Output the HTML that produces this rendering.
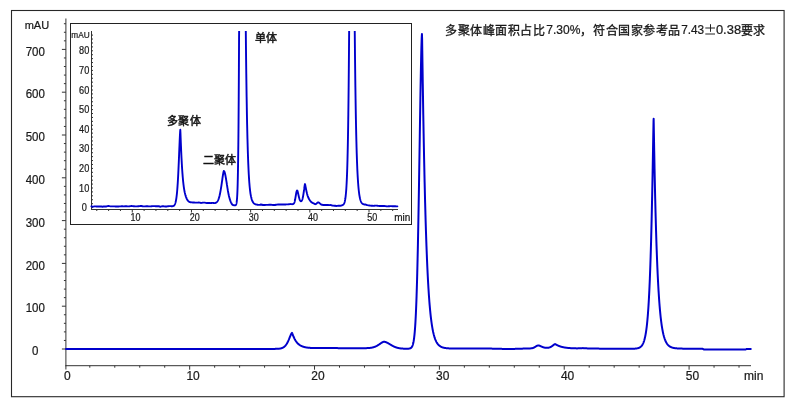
<!DOCTYPE html>
<html lang="zh-CN"><head><meta charset="utf-8">
<style>
html,body{margin:0;padding:0;background:#fff;width:800px;height:405px;overflow:hidden}
svg{display:block;will-change:transform}
text{font-family:"Liberation Sans",sans-serif;fill:#1a1a1a;stroke:#1a1a1a;stroke-width:0.22}
.ax{stroke:#333;stroke-width:1;fill:none;shape-rendering:crispEdges}
.tr{stroke:#0000cc;stroke-width:2.0;fill:none;stroke-linejoin:round;stroke-linecap:round}
.tri{stroke:#0000cc;stroke-width:1.9;fill:none;stroke-linejoin:round;stroke-linecap:round}
</style></head><body>
<svg width="800" height="405" viewBox="0 0 800 405">
<defs><clipPath id="ic"><rect x="70" y="31" width="340" height="193"/></clipPath></defs>
<!-- outer frame -->
<rect x="11.5" y="10.5" width="772.6" height="386.2" fill="none" stroke="#282828" stroke-width="1.1"/>
<path d="M65.9,18.5V366.2M65.4,365.7H751" stroke="#333" stroke-width="1" fill="none"/>
<path d="M61.900000000000006,349.00H65.9M63.900000000000006,340.44H65.9M63.900000000000006,331.88H65.9M63.900000000000006,323.32H65.9M63.900000000000006,314.76H65.9M61.900000000000006,306.20H65.9M63.900000000000006,297.64H65.9M63.900000000000006,289.08H65.9M63.900000000000006,280.52H65.9M63.900000000000006,271.96H65.9M61.900000000000006,263.40H65.9M63.900000000000006,254.84H65.9M63.900000000000006,246.28H65.9M63.900000000000006,237.72H65.9M63.900000000000006,229.16H65.9M61.900000000000006,220.60H65.9M63.900000000000006,212.04H65.9M63.900000000000006,203.48H65.9M63.900000000000006,194.92H65.9M63.900000000000006,186.36H65.9M61.900000000000006,177.80H65.9M63.900000000000006,169.24H65.9M63.900000000000006,160.68H65.9M63.900000000000006,152.12H65.9M63.900000000000006,143.56H65.9M61.900000000000006,135.00H65.9M63.900000000000006,126.44H65.9M63.900000000000006,117.88H65.9M63.900000000000006,109.32H65.9M63.900000000000006,100.76H65.9M61.900000000000006,92.20H65.9M63.900000000000006,83.64H65.9M63.900000000000006,75.08H65.9M63.900000000000006,66.52H65.9M63.900000000000006,57.96H65.9M61.900000000000006,49.40H65.9M63.900000000000006,40.84H65.9M63.900000000000006,32.28H65.9M63.900000000000006,23.72H65.9M89.80,365.7V367.7M114.77,365.7V367.7M139.74,365.7V367.7M164.71,365.7V367.7M189.68,365.7V369.7M214.65,365.7V367.7M239.62,365.7V367.7M264.59,365.7V367.7M289.56,365.7V367.7M314.53,365.7V369.7M339.50,365.7V367.7M364.47,365.7V367.7M389.44,365.7V367.7M414.41,365.7V367.7M439.38,365.7V369.7M464.35,365.7V367.7M489.32,365.7V367.7M514.29,365.7V367.7M539.26,365.7V367.7M564.23,365.7V369.7M589.20,365.7V367.7M614.17,365.7V367.7M639.14,365.7V367.7M664.11,365.7V367.7M689.08,365.7V369.7M714.05,365.7V367.7M739.02,365.7V367.7M65.9,365.7V369.5" stroke="#333" stroke-width="1" fill="none"/>
<g transform="translate(35.30,355.20) scale(0.96,1.03)"><text x="0" y="0" text-anchor="middle" style="font-size:12px">0</text></g>
<g transform="translate(35.30,312.40) scale(0.96,1.03)"><text x="0" y="0" text-anchor="middle" style="font-size:12px">100</text></g>
<g transform="translate(35.30,269.60) scale(0.96,1.03)"><text x="0" y="0" text-anchor="middle" style="font-size:12px">200</text></g>
<g transform="translate(35.30,226.80) scale(0.96,1.03)"><text x="0" y="0" text-anchor="middle" style="font-size:12px">300</text></g>
<g transform="translate(35.30,184.00) scale(0.96,1.03)"><text x="0" y="0" text-anchor="middle" style="font-size:12px">400</text></g>
<g transform="translate(35.30,141.20) scale(0.96,1.03)"><text x="0" y="0" text-anchor="middle" style="font-size:12px">500</text></g>
<g transform="translate(35.30,98.40) scale(0.96,1.03)"><text x="0" y="0" text-anchor="middle" style="font-size:12px">600</text></g>
<g transform="translate(35.30,55.60) scale(0.96,1.03)"><text x="0" y="0" text-anchor="middle" style="font-size:12px">700</text></g>
<text x="36.9" y="29.3" text-anchor="middle" style="font-size:11px">mAU</text>
<g transform="translate(64.10,379.80) scale(1.0,1.03)"><text x="0" y="0" text-anchor="start" style="font-size:12px">0</text></g>
<g transform="translate(186.38,379.80) scale(1.0,1.03)"><text x="0" y="0" text-anchor="start" style="font-size:12px">10</text></g>
<g transform="translate(311.23,379.80) scale(1.0,1.03)"><text x="0" y="0" text-anchor="start" style="font-size:12px">20</text></g>
<g transform="translate(436.08,379.80) scale(1.0,1.03)"><text x="0" y="0" text-anchor="start" style="font-size:12px">30</text></g>
<g transform="translate(560.93,379.80) scale(1.0,1.03)"><text x="0" y="0" text-anchor="start" style="font-size:12px">40</text></g>
<g transform="translate(685.78,379.80) scale(1.0,1.03)"><text x="0" y="0" text-anchor="start" style="font-size:12px">50</text></g>
<text x="744" y="379.8" style="font-size:12px">min</text>
<!-- title -->
<g style="font-size:12px;fill:#111">
<text y="34.7" letter-spacing="0.5" style="stroke:#111;stroke-width:0.3"><tspan x="445.4">多聚体峰面积占比</tspan><tspan x="580">，</tspan><tspan x="593.4">符合国家参考品</tspan><tspan x="740.6">要求</tspan></text>
<g transform="translate(0,34.2) scale(1,1.1)" style="stroke-width:0.15"><text x="546.2" y="0" textLength="34.2" lengthAdjust="spacingAndGlyphs">7.30%</text><text x="681.2" y="0" textLength="23" lengthAdjust="spacingAndGlyphs">7.43</text><text x="715.9" y="0" textLength="25.2" lengthAdjust="spacingAndGlyphs">0.38</text></g>
<path d="M710.5,24.2V31.8M705.3,28H715M705.3,34H715" stroke="#222" stroke-width="1" fill="none"/>
</g>
<path class="tr" d="M66.00,348.94L67.00,348.94L68.01,348.94L69.01,348.94L70.01,348.94L71.01,348.94L72.01,348.94L73.01,348.94L74.01,348.94L75.01,348.94L76.01,348.94L77.02,348.94L78.02,348.94L79.02,348.94L80.02,348.94L81.02,348.94L82.02,348.94L83.02,348.94L84.02,348.94L85.02,348.94L86.03,348.94L87.03,348.94L88.03,348.94L89.03,348.94L90.03,348.94L91.03,348.94L92.03,348.94L93.03,348.94L94.03,348.94L95.03,348.94L96.04,348.94L97.04,348.94L98.04,348.94L99.04,348.94L100.04,348.94L101.04,348.94L102.04,348.94L103.04,348.94L104.05,348.94L105.05,348.94L106.05,348.93L107.05,348.93L108.05,348.93L109.05,348.93L110.05,348.93L111.05,348.93L112.05,348.93L113.06,348.93L114.06,348.93L115.06,348.93L116.06,348.93L117.06,348.93L118.06,348.93L119.06,348.93L120.06,348.93L121.06,348.93L122.06,348.93L123.07,348.93L124.07,348.93L125.07,348.93L126.07,348.93L127.07,348.93L128.07,348.93L129.07,348.93L130.07,348.93L131.08,348.93L132.08,348.93L133.08,348.93L134.08,348.93L135.08,348.93L136.08,348.93L137.08,348.93L138.08,348.93L139.08,348.93L140.08,348.93L141.09,348.93L142.09,348.93L143.09,348.93L144.09,348.93L145.09,348.93L146.09,348.93L147.09,348.93L148.09,348.93L149.10,348.93L150.10,348.93L151.10,348.93L152.10,348.93L153.10,348.93L154.10,348.93L155.10,348.92L156.10,348.92L157.10,348.92L158.10,348.92L159.11,348.92L160.11,348.92L161.11,348.92L162.11,348.92L163.11,348.92L164.11,348.92L165.11,348.92L166.11,348.92L167.11,348.92L168.12,348.92L169.12,348.92L170.12,348.92L171.12,348.92L172.12,348.92L173.12,348.92L174.12,348.92L175.12,348.92L176.13,348.92L177.13,348.92L178.13,348.92L179.13,348.92L180.13,348.92L181.13,348.92L182.13,348.92L183.13,348.92L184.13,348.92L185.13,348.92L186.14,348.92L187.14,348.92L188.14,348.92L189.14,348.92L190.14,348.92L191.14,348.92L192.14,348.92L193.14,348.92L194.14,348.92L195.15,348.92L196.15,348.92L197.15,348.92L198.15,348.92L199.15,348.92L200.15,348.92L201.15,348.92L202.15,348.92L203.15,348.92L204.16,348.92L205.16,348.91L206.16,348.91L207.16,348.91L208.16,348.91L209.16,348.91L210.16,348.91L211.16,348.91L212.16,348.91L213.17,348.91L214.17,348.91L215.17,348.91L216.17,348.91L217.17,348.91L218.17,348.91L219.17,348.91L220.17,348.91L221.17,348.91L222.17,348.91L223.18,348.91L224.18,348.91L225.18,348.91L226.18,348.91L227.18,348.91L228.18,348.91L229.18,348.91L230.18,348.91L231.19,348.91L232.19,348.91L233.19,348.91L234.19,348.91L235.19,348.91L236.19,348.91L237.19,348.91L238.19,348.91L239.19,348.91L240.20,348.91L241.20,348.91L242.20,348.91L243.20,348.91L244.20,348.91L245.20,348.91L246.20,348.91L247.20,348.91L248.20,348.91L249.20,348.91L250.21,348.91L251.21,348.91L252.21,348.91L253.21,348.91L254.21,348.91L255.21,348.90L256.21,348.90L257.21,348.90L258.22,348.90L259.22,348.90L260.22,348.90L260.84,348.90L261.01,348.90L261.18,348.90L261.22,348.90L261.35,348.90L261.51,348.90L261.68,348.90L261.85,348.90L262.02,348.90L262.18,348.90L262.22,348.90L262.35,348.90L262.52,348.90L262.69,348.90L262.85,348.90L263.02,348.90L263.19,348.90L263.22,348.90L263.36,348.90L263.52,348.90L263.69,348.90L263.86,348.90L264.02,348.90L264.19,348.90L264.22,348.90L264.36,348.90L264.53,348.90L264.69,348.90L264.86,348.90L265.03,348.90L265.20,348.90L265.22,348.90L265.36,348.90L265.53,348.90L265.70,348.90L265.86,348.90L266.03,348.90L266.20,348.90L266.22,348.90L266.37,348.90L266.54,348.90L266.70,348.90L266.87,348.90L267.04,348.90L267.20,348.90L267.22,348.90L267.37,348.90L267.54,348.90L267.71,348.90L267.87,348.90L268.04,348.90L268.21,348.90L268.23,348.90L268.38,348.90L268.54,348.90L268.71,348.90L268.88,348.90L269.04,348.90L269.21,348.90L269.23,348.90L269.38,348.90L269.55,348.90L269.72,348.90L269.88,348.90L270.05,348.90L270.22,348.90L270.23,348.90L270.38,348.90L270.55,348.90L270.72,348.90L270.89,348.90L271.05,348.90L271.22,348.90L271.23,348.90L271.39,348.90L271.56,348.90L271.72,348.90L271.89,348.90L272.06,348.90L272.22,348.90L272.23,348.90L272.39,348.90L272.56,348.90L272.73,348.90L272.89,348.89L273.06,348.89L273.23,348.89L273.23,348.89L273.40,348.89L273.56,348.89L273.73,348.89L273.90,348.89L274.07,348.89L274.23,348.89L274.23,348.89L274.40,348.89L274.57,348.88L274.74,348.88L274.90,348.88L275.07,348.88L275.23,348.88L275.24,348.87L275.40,348.87L275.57,348.87L275.74,348.87L275.91,348.86L276.07,348.86L276.23,348.86L276.24,348.86L276.41,348.85L276.58,348.85L276.74,348.84L276.91,348.83L277.08,348.83L277.24,348.82L277.25,348.82L277.41,348.81L277.58,348.80L277.75,348.79L277.92,348.78L278.08,348.77L278.24,348.76L278.25,348.76L278.42,348.75L278.58,348.73L278.75,348.72L278.92,348.70L279.09,348.68L279.24,348.66L279.25,348.66L279.42,348.64L279.59,348.62L279.76,348.60L279.92,348.57L280.09,348.54L280.24,348.52L280.26,348.51L280.43,348.48L280.59,348.45L280.76,348.41L280.93,348.37L281.10,348.33L281.24,348.29L281.26,348.29L281.43,348.24L281.60,348.19L281.76,348.13L281.93,348.08L282.10,348.01L282.24,347.96L282.27,347.95L282.43,347.88L282.60,347.80L282.77,347.72L282.94,347.64L283.10,347.55L283.24,347.47L283.27,347.45L283.44,347.35L283.61,347.24L283.77,347.13L283.94,347.01L284.11,346.88L284.24,346.77L284.28,346.75L284.44,346.61L284.61,346.46L284.78,346.30L284.94,346.13L285.11,345.96L285.24,345.81L285.28,345.78L285.45,345.58L285.61,345.38L285.78,345.17L285.95,344.95L286.12,344.72L286.25,344.53L286.28,344.48L286.45,344.23L286.62,343.97L286.78,343.69L286.95,343.41L287.12,343.12L287.25,342.89L287.29,342.81L287.46,342.50L287.62,342.18L287.79,341.84L287.96,341.50L288.12,341.15L288.25,340.88L288.29,340.79L288.46,340.42L288.63,340.04L288.79,339.66L288.96,339.27L289.13,338.87L289.25,338.58L289.30,338.47L289.46,338.07L289.63,337.66L289.80,337.24L289.96,336.83L290.13,336.42L290.25,336.13L290.30,336.01L290.47,335.61L290.63,335.22L290.80,334.84L290.97,334.48L291.14,334.14L291.25,333.91L291.30,333.81L291.47,333.52L291.64,333.26L291.81,333.04L291.97,332.88L292.14,333.05L292.25,333.35L292.31,333.50L292.48,333.96L292.64,334.40L292.81,334.84L292.98,335.27L293.14,335.69L293.25,335.96L293.31,336.10L293.48,336.50L293.65,336.89L293.81,337.27L293.98,337.64L294.15,337.99L294.25,338.21L294.32,338.34L294.48,338.67L294.65,338.99L294.82,339.31L294.99,339.61L295.15,339.91L295.26,340.08L295.32,340.19L295.49,340.47L295.66,340.74L295.82,340.99L295.99,341.24L296.16,341.49L296.26,341.63L296.32,341.72L296.49,341.95L296.66,342.16L296.83,342.37L296.99,342.58L297.16,342.77L297.26,342.89L297.33,342.97L297.50,343.15L297.66,343.33L297.83,343.50L298.00,343.66L298.17,343.82L298.26,343.91L298.33,343.98L298.50,344.12L298.67,344.27L298.84,344.40L299.00,344.54L299.17,344.66L299.26,344.73L299.34,344.79L299.50,344.91L299.67,345.02L299.84,345.13L300.01,345.24L300.17,345.34L300.26,345.39L300.34,345.44L300.51,345.54L300.68,345.63L300.84,345.72L301.01,345.80L301.18,345.88L301.26,345.92L301.35,345.96L301.51,346.04L301.68,346.11L301.85,346.18L302.02,346.25L302.18,346.32L302.26,346.35L302.35,346.38L302.52,346.45L302.68,346.51L302.85,346.58L303.02,346.63L303.19,346.69L303.26,346.72L303.35,346.75L303.52,346.80L303.69,346.85L303.86,346.90L304.02,346.95L304.19,346.99L304.26,347.01L304.36,347.04L304.53,347.08L304.69,347.12L304.86,347.16L305.03,347.20L305.19,347.23L305.27,347.25L305.36,347.27L305.53,347.30L305.70,347.34L305.86,347.37L306.03,347.40L306.20,347.43L306.27,347.44L306.37,347.45L306.53,347.48L306.70,347.51L306.87,347.53L307.04,347.56L307.20,347.58L307.27,347.59L307.37,347.60L307.54,347.62L307.71,347.64L307.87,347.66L308.04,347.68L308.21,347.70L308.27,347.71L308.37,347.72L308.54,347.74L308.71,347.75L308.88,347.77L309.04,347.78L309.21,347.80L309.27,347.80L309.38,347.81L309.55,347.83L309.71,347.84L309.88,347.85L310.05,347.86L310.22,347.87L310.27,347.88L310.38,347.89L310.55,347.90L310.72,347.91L310.88,347.92L311.05,347.92L311.22,347.93L311.27,347.94L311.39,347.94L311.55,347.95L311.72,347.96L311.89,347.97L312.06,347.97L312.22,347.98L312.27,347.98L312.39,347.99L312.56,347.99L312.73,348.00L312.89,348.00L313.06,348.01L313.23,348.02L313.28,348.02L313.40,348.02L313.56,348.03L313.73,348.03L313.90,348.03L314.06,348.04L314.23,348.04L314.28,348.04L314.40,348.05L314.57,348.05L314.73,348.05L314.90,348.06L315.07,348.06L315.24,348.06L315.28,348.06L315.40,348.07L315.57,348.07L315.74,348.07L315.91,348.07L316.07,348.07L316.24,348.08L316.28,348.08L316.41,348.08L316.58,348.08L316.74,348.08L316.91,348.08L317.08,348.09L317.24,348.09L317.28,348.09L317.41,348.09L317.58,348.09L317.75,348.09L317.91,348.09L318.08,348.09L318.25,348.09L318.28,348.09L318.42,348.09L318.58,348.10L318.75,348.10L318.92,348.10L319.09,348.10L319.25,348.10L319.28,348.10L319.42,348.10L319.59,348.10L319.75,348.10L319.92,348.10L320.09,348.10L320.26,348.10L320.28,348.10L320.42,348.10L320.59,348.10L320.76,348.10L320.93,348.10L321.09,348.10L321.26,348.10L321.28,348.10L321.43,348.10L321.60,348.10L321.76,348.10L321.93,348.10L322.10,348.10L322.27,348.10L322.29,348.10L322.43,348.10L322.60,348.10L322.77,348.10L322.93,348.10L323.10,348.10L323.27,348.10L323.29,348.10L324.29,348.09L325.29,348.09L326.29,348.08L327.29,348.08L328.29,348.09L329.29,348.09L330.29,348.10L331.29,348.10L332.30,348.10L333.30,348.11L334.30,348.11L335.30,348.11L336.30,348.12L337.30,348.12L338.30,348.13L339.30,348.13L340.31,348.13L341.31,348.14L342.31,348.14L343.31,348.14L344.31,348.15L345.31,348.15L346.31,348.15L347.31,348.16L348.31,348.16L349.31,348.16L350.32,348.17L351.32,348.17L352.32,348.17L352.73,348.18L352.90,348.18L353.07,348.18L353.24,348.18L353.32,348.18L353.40,348.18L353.57,348.18L353.74,348.18L353.91,348.18L354.07,348.18L354.24,348.18L354.32,348.18L354.41,348.18L354.58,348.18L354.74,348.18L354.91,348.18L355.08,348.18L355.24,348.18L355.32,348.18L355.41,348.18L355.58,348.18L355.75,348.18L355.91,348.19L356.08,348.19L356.25,348.19L356.32,348.19L356.42,348.19L356.58,348.19L356.75,348.19L356.92,348.19L357.09,348.19L357.25,348.19L357.32,348.19L357.42,348.19L357.59,348.19L357.75,348.19L357.92,348.19L358.09,348.19L358.26,348.19L358.32,348.19L358.42,348.19L358.59,348.19L358.76,348.19L358.93,348.19L359.09,348.19L359.26,348.19L359.33,348.19L359.43,348.19L359.60,348.19L359.76,348.19L359.93,348.19L360.10,348.19L360.27,348.19L360.33,348.19L360.43,348.19L360.60,348.19L360.77,348.19L360.93,348.19L361.10,348.19L361.27,348.19L361.33,348.19L361.44,348.19L361.60,348.19L361.77,348.19L361.94,348.19L362.11,348.19L362.27,348.19L362.33,348.19L362.44,348.19L362.61,348.19L362.78,348.18L362.94,348.18L363.11,348.18L363.28,348.18L363.33,348.18L363.44,348.18L363.61,348.18L363.78,348.17L363.95,348.17L364.11,348.17L364.28,348.17L364.33,348.17L364.45,348.16L364.62,348.16L364.78,348.16L364.95,348.16L365.12,348.16L365.29,348.16L365.33,348.16L365.45,348.15L365.62,348.15L365.79,348.15L365.96,348.15L366.12,348.14L366.29,348.14L366.33,348.14L366.46,348.13L366.62,348.13L366.79,348.12L366.96,348.12L367.13,348.11L367.29,348.11L367.33,348.10L367.46,348.10L367.63,348.09L367.80,348.08L367.96,348.07L368.13,348.06L368.30,348.05L368.34,348.05L368.47,348.04L368.63,348.03L368.80,348.02L368.97,348.01L369.14,347.99L369.30,347.98L369.34,347.98L369.47,347.96L369.64,347.95L369.80,347.93L369.97,347.91L370.14,347.89L370.31,347.87L370.34,347.87L370.47,347.85L370.64,347.83L370.81,347.81L370.98,347.78L371.14,347.76L371.31,347.73L371.34,347.72L371.48,347.70L371.65,347.67L371.81,347.64L371.98,347.61L372.15,347.57L372.32,347.54L372.34,347.53L372.48,347.50L372.65,347.46L372.82,347.42L372.98,347.38L373.15,347.33L373.32,347.29L373.34,347.28L373.49,347.24L373.65,347.19L373.82,347.14L373.99,347.08L374.16,347.03L374.32,346.97L374.34,346.96L374.49,346.91L374.66,346.85L374.83,346.78L374.99,346.72L375.16,346.65L375.33,346.58L375.34,346.57L375.50,346.51L375.66,346.43L375.83,346.36L376.00,346.28L376.16,346.20L376.33,346.11L376.34,346.11L376.50,346.03L376.67,345.94L376.83,345.85L377.00,345.76L377.17,345.67L377.34,345.57L377.35,345.56L377.50,345.47L377.67,345.37L377.84,345.27L378.00,345.17L378.17,345.06L378.34,344.96L378.35,344.95L378.51,344.85L378.67,344.74L378.84,344.63L379.01,344.51L379.18,344.40L379.34,344.29L379.35,344.28L379.51,344.17L379.68,344.06L379.85,343.94L380.01,343.83L380.18,343.71L380.35,343.59L380.52,343.48L380.68,343.36L380.85,343.25L381.02,343.14L381.18,343.03L381.35,342.92L381.35,342.92L381.52,342.81L381.69,342.71L381.85,342.60L382.02,342.50L382.19,342.41L382.35,342.32L382.36,342.32L382.52,342.23L382.69,342.15L382.86,342.07L383.03,342.00L383.19,341.94L383.35,341.88L383.36,341.88L383.53,341.84L383.70,341.80L383.86,341.78L384.03,341.77L384.20,341.78L384.35,341.80L384.36,341.80L384.53,341.82L384.70,341.85L384.87,341.88L385.03,341.92L385.20,341.96L385.35,342.00L385.37,342.00L385.54,342.05L385.70,342.10L385.87,342.16L386.04,342.22L386.21,342.28L386.35,342.34L386.37,342.35L386.54,342.42L386.71,342.50L386.88,342.57L387.04,342.65L387.21,342.73L387.36,342.81L387.38,342.82L387.54,342.90L387.71,342.99L387.88,343.08L388.05,343.18L388.21,343.27L388.36,343.35L388.38,343.36L388.55,343.46L388.72,343.56L388.88,343.66L389.05,343.76L389.22,343.86L389.36,343.94L389.39,343.96L389.55,344.06L389.72,344.16L389.89,344.26L390.06,344.37L390.22,344.47L390.36,344.55L390.39,344.57L390.56,344.67L390.72,344.77L390.81,344.83L390.89,344.88L390.98,344.93L391.06,344.98L391.15,345.03L391.23,345.08L391.32,345.13L391.36,345.15L391.39,345.17L391.48,345.23L391.56,345.27L391.65,345.32L391.73,345.37L391.82,345.42L391.90,345.47L391.98,345.52L392.06,345.56L392.15,345.61L392.23,345.65L392.32,345.70L392.36,345.73L392.40,345.75L392.49,345.80L392.56,345.84L392.65,345.89L392.73,345.93L392.82,345.98L392.90,346.02L392.99,346.06L393.07,346.10L393.16,346.15L393.24,346.19L393.32,346.24L393.36,346.25L393.40,346.27L393.49,346.32L393.57,346.36L393.66,346.40L393.74,346.44L393.83,346.48L393.90,346.52L393.99,346.56L394.07,346.60L394.16,346.64L394.24,346.67L394.33,346.71L394.36,346.73L394.41,346.75L394.50,346.79L394.57,346.82L394.66,346.86L394.74,346.89L394.83,346.93L394.91,346.96L395.00,347.00L395.08,347.03L395.16,347.06L395.24,347.09L395.33,347.13L395.37,347.14L395.41,347.16L395.50,347.19L395.58,347.22L395.67,347.25L395.74,347.28L395.83,347.31L395.91,347.34L396.00,347.37L396.08,347.40L396.17,347.43L396.25,347.46L396.34,347.48L396.37,347.49L396.42,347.51L396.50,347.54L396.58,347.56L396.67,347.59L396.75,347.61L396.84,347.64L396.92,347.66L397.01,347.69L397.08,347.71L397.17,347.74L397.25,347.76L397.34,347.78L397.37,347.79L397.42,347.80L397.51,347.83L397.59,347.85L397.68,347.87L397.75,347.89L397.84,347.91L397.92,347.93L398.01,347.95L398.09,347.97L398.18,347.99L398.26,348.01L398.34,348.02L398.37,348.03L398.42,348.04L398.51,348.06L398.59,348.08L398.68,348.09L398.76,348.11L398.85,348.13L398.92,348.14L399.01,348.16L399.09,348.17L399.18,348.19L399.26,348.20L399.35,348.22L399.37,348.22L399.43,348.23L399.52,348.25L399.60,348.26L399.68,348.28L399.76,348.29L399.85,348.30L399.93,348.31L400.02,348.33L400.10,348.34L400.19,348.35L400.26,348.36L400.35,348.38L400.37,348.38L400.43,348.39L400.52,348.40L400.60,348.41L400.69,348.42L400.77,348.43L400.86,348.44L400.93,348.45L401.02,348.46L401.10,348.47L401.19,348.48L401.27,348.49L401.36,348.50L401.37,348.50L401.44,348.51L401.52,348.51L401.60,348.52L401.69,348.53L401.77,348.54L401.86,348.55L401.94,348.55L402.03,348.56L402.10,348.57L402.19,348.57L402.27,348.58L402.36,348.58L402.37,348.58L402.44,348.59L402.53,348.59L402.61,348.60L402.70,348.60L402.77,348.61L402.86,348.61L402.94,348.61L403.03,348.62L403.11,348.62L403.20,348.63L403.28,348.63L403.37,348.63L403.37,348.63L403.44,348.64L403.53,348.64L403.61,348.64L403.70,348.65L403.78,348.65L403.87,348.65L403.95,348.66L404.03,348.66L404.11,348.66L404.20,348.66L404.28,348.67L404.37,348.67L404.38,348.67L404.45,348.67L404.54,348.67L404.62,348.68L404.70,348.68L404.78,348.68L404.87,348.68L404.95,348.68L405.04,348.69L405.12,348.69L405.21,348.69L405.28,348.69L405.37,348.69L405.38,348.69L405.45,348.69L405.54,348.69L405.62,348.70L405.71,348.70L405.79,348.70L405.88,348.70L405.95,348.70L406.04,348.70L406.12,348.70L406.21,348.70L406.29,348.70L406.38,348.70L406.46,348.70L406.55,348.70L406.62,348.70L406.71,348.70L406.79,348.70L406.88,348.70L406.96,348.70L407.05,348.70L407.13,348.70L407.21,348.70L407.29,348.70L407.38,348.70L407.38,348.70L407.46,348.69L407.55,348.69L407.63,348.69L407.72,348.69L407.80,348.69L407.88,348.68L407.96,348.68L408.05,348.68L408.13,348.67L408.22,348.67L408.30,348.66L408.38,348.66L408.39,348.66L408.46,348.65L408.55,348.65L408.63,348.64L408.72,348.63L408.80,348.63L408.89,348.62L408.97,348.61L409.06,348.60L409.13,348.59L409.22,348.58L409.30,348.56L409.38,348.55L409.39,348.55L409.47,348.53L409.56,348.52L409.64,348.50L409.72,348.48L409.80,348.46L409.89,348.44L409.97,348.41L410.06,348.39L410.14,348.36L410.23,348.33L410.31,348.29L410.38,348.26L410.39,348.26L410.47,348.22L410.56,348.18L410.64,348.13L410.73,348.08L410.81,348.03L410.90,347.98L410.98,347.92L411.06,347.85L411.14,347.79L411.23,347.71L411.31,347.63L411.38,347.56L411.40,347.54L411.48,347.46L411.57,347.35L411.64,347.25L411.73,347.13L411.81,347.02L411.90,346.89L411.98,346.76L412.07,346.60L412.15,346.45L412.24,346.28L412.31,346.11L412.38,345.95L412.40,345.90L412.48,345.71L412.57,345.48L412.65,345.27L412.74,345.01L412.82,344.76L412.90,344.47L412.98,344.19L413.07,343.86L413.15,343.54L413.24,343.17L413.32,342.82L413.38,342.50L413.41,342.39L413.49,341.99L413.57,341.52L413.65,341.08L413.74,340.55L413.82,340.05L413.91,339.46L413.99,338.90L414.08,338.24L414.16,337.62L414.24,336.89L414.32,336.20L414.39,335.62L414.41,335.38L414.49,334.62L414.58,333.71L414.66,332.87L414.75,331.87L414.82,330.94L414.91,329.83L414.99,328.81L415.08,327.59L415.16,326.46L415.25,325.13L415.39,322.89L415.42,322.43L415.58,319.47L415.75,316.25L415.92,312.74L416.08,308.93L416.25,304.81L416.39,301.18L416.42,300.36L416.59,295.56L416.75,290.40L416.92,284.84L417.09,278.94L417.26,272.65L417.39,267.34L417.42,265.97L417.59,258.89L417.76,251.43L417.93,243.57L418.09,235.33L418.26,226.71L418.39,219.78L418.43,217.75L418.59,208.44L418.76,198.83L418.93,188.93L419.10,178.79L419.26,168.45L419.39,160.48L419.43,157.96L419.60,147.36L419.77,136.73L419.93,126.12L420.10,115.61L420.27,105.27L420.39,97.73L420.44,95.13L420.60,85.41L420.77,76.15L420.94,67.44L421.11,59.40L421.27,52.15L421.39,47.46L421.44,45.81L421.61,40.55L421.77,36.55L421.94,34.09L422.11,39.06L422.28,50.47L422.40,58.56L422.44,61.86L422.61,73.04L422.78,83.93L422.95,94.51L423.11,104.76L423.28,114.67L423.40,121.35L423.45,124.24L423.62,133.47L423.78,142.44L423.95,151.00L424.12,159.25L424.29,167.18L424.40,172.28L424.45,174.81L424.62,182.14L424.79,189.19L424.95,195.95L425.12,202.45L425.29,208.69L425.40,212.60L425.46,214.68L425.62,220.42L425.79,225.93L425.96,231.21L426.13,236.28L426.29,241.14L426.40,244.12L426.46,245.80L426.63,250.26L426.80,254.54L426.96,258.64L427.13,262.56L427.30,266.35L427.40,268.57L427.47,269.95L427.63,273.40L427.80,276.70L427.97,279.86L428.13,282.89L428.30,285.79L428.40,287.46L428.47,288.56L428.64,291.21L428.80,293.75L428.97,296.18L429.14,298.51L429.31,300.73L429.40,301.98L429.47,302.86L429.64,304.90L429.81,306.84L429.98,308.71L430.14,310.49L430.31,312.19L430.40,313.12L430.48,313.82L430.64,315.38L430.81,316.88L430.98,318.30L431.15,319.66L431.31,320.96L431.40,321.63L431.48,322.20L431.65,323.39L431.82,324.53L431.98,325.61L432.15,326.65L432.32,327.64L432.41,328.14L432.49,328.58L432.65,329.49L432.82,330.35L432.99,331.18L433.15,331.97L433.32,332.72L433.41,333.09L433.49,333.44L433.66,334.13L433.82,334.79L433.99,335.41L434.16,336.01L434.33,336.59L434.41,336.86L434.49,337.14L434.66,337.66L434.83,338.16L435.00,338.63L435.16,339.08L435.33,339.52L435.41,339.72L435.50,339.93L435.67,340.33L435.83,340.70L436.00,341.07L436.17,341.41L436.33,341.74L436.41,341.88L436.50,342.05L436.67,342.35L436.84,342.63L437.00,342.91L437.17,343.17L437.34,343.41L437.41,343.52L437.51,343.65L437.67,343.88L437.84,344.09L438.01,344.30L438.18,344.50L438.34,344.68L438.41,344.76L438.51,344.86L438.68,345.03L438.85,345.19L439.01,345.35L439.18,345.50L439.35,345.64L439.41,345.69L439.51,345.77L439.68,345.90L439.85,346.03L440.02,346.14L440.18,346.26L440.35,346.36L440.42,346.40L440.52,346.47L440.69,346.56L440.85,346.66L441.02,346.75L441.19,346.83L441.36,346.91L441.42,346.94L441.52,346.99L441.69,347.06L441.86,347.13L442.03,347.20L442.19,347.26L442.36,347.32L442.42,347.34L442.53,347.38L442.69,347.44L442.86,347.49L443.03,347.54L443.20,347.59L443.36,347.63L443.42,347.65L443.53,347.68L443.70,347.72L443.87,347.76L444.03,347.80L444.20,347.83L444.37,347.87L444.42,347.88L444.54,347.90L444.70,347.93L444.87,347.96L445.04,347.99L445.21,348.02L445.37,348.04L445.42,348.05L445.54,348.07L445.71,348.09L445.87,348.11L446.04,348.14L446.21,348.16L446.38,348.18L446.42,348.18L446.54,348.19L446.71,348.21L446.88,348.23L447.05,348.25L447.21,348.26L447.38,348.28L447.42,348.28L447.55,348.29L447.71,348.30L447.88,348.32L448.05,348.33L448.22,348.34L448.39,348.35L448.42,348.35L448.55,348.36L448.72,348.37L448.89,348.38L449.05,348.39L449.22,348.40L449.39,348.41L449.43,348.41L449.56,348.41L449.72,348.42L449.89,348.43L450.06,348.44L450.23,348.44L450.39,348.45L450.43,348.45L450.56,348.45L450.73,348.46L450.89,348.47L451.06,348.47L451.23,348.48L451.40,348.48L451.43,348.48L451.57,348.49L451.73,348.49L451.90,348.49L452.07,348.50L452.23,348.50L452.40,348.50L452.43,348.51L452.57,348.51L452.74,348.51L452.90,348.51L453.07,348.52L453.24,348.52L453.43,348.52L454.43,348.54L455.43,348.55L456.43,348.56L457.43,348.56L458.43,348.57L459.44,348.57L460.44,348.58L461.44,348.58L462.44,348.58L463.44,348.58L464.44,348.58L465.44,348.59L466.44,348.59L467.45,348.59L468.45,348.59L469.45,348.59L470.45,348.59L471.45,348.59L472.45,348.60L473.45,348.60L474.45,348.60L475.45,348.60L476.45,348.60L477.46,348.60L478.46,348.60L479.46,348.59L480.46,348.59L481.46,348.59L482.46,348.59L483.46,348.59L484.46,348.58L485.46,348.58L486.47,348.58L487.47,348.58L488.47,348.57L489.47,348.58L490.47,348.60L491.47,348.62L492.47,348.65L493.47,348.67L494.47,348.69L495.48,348.72L496.48,348.74L497.48,348.76L498.48,348.79L499.48,348.81L500.48,348.83L501.48,348.86L502.48,348.88L503.48,348.90L504.49,348.93L505.49,348.95L506.49,348.97L507.42,349.00L507.49,349.00L507.59,349.00L507.76,349.00L507.93,349.01L508.09,349.01L508.26,349.02L508.43,349.02L508.49,349.02L508.59,349.02L508.76,349.03L508.93,349.03L509.10,349.04L509.26,349.04L509.43,349.04L509.49,349.03L509.60,349.03L509.77,349.03L509.93,349.02L510.10,349.02L510.27,349.01L510.44,349.01L510.49,349.01L510.60,349.00L510.77,349.00L510.94,348.99L511.11,348.99L511.27,348.98L511.44,348.98L511.49,348.98L511.61,348.98L511.77,348.97L511.94,348.97L512.11,348.96L512.28,348.96L512.44,348.95L512.49,348.95L512.61,348.95L512.78,348.94L512.95,348.94L513.11,348.93L513.28,348.93L513.45,348.92L513.49,348.92L513.62,348.92L513.78,348.91L513.95,348.91L514.12,348.91L514.29,348.90L514.45,348.90L514.50,348.89L514.62,348.89L514.79,348.88L514.95,348.88L515.12,348.87L515.29,348.87L515.46,348.86L515.50,348.86L515.62,348.86L515.79,348.85L515.96,348.85L516.13,348.84L516.29,348.84L516.46,348.83L516.50,348.83L516.63,348.82L516.80,348.82L516.96,348.81L517.13,348.81L517.30,348.80L517.46,348.80L517.50,348.80L517.63,348.79L517.80,348.79L517.97,348.78L518.13,348.78L518.30,348.77L518.47,348.76L518.50,348.76L518.64,348.76L518.80,348.75L518.97,348.75L519.14,348.74L519.31,348.74L519.47,348.73L519.50,348.73L519.64,348.73L519.81,348.72L519.98,348.72L520.14,348.71L520.31,348.70L520.48,348.70L520.50,348.70L520.64,348.69L520.81,348.69L520.98,348.68L521.15,348.68L521.31,348.67L521.48,348.67L521.50,348.67L521.65,348.66L521.82,348.66L521.98,348.65L522.15,348.64L522.32,348.64L522.49,348.63L522.51,348.63L522.65,348.63L522.82,348.62L522.99,348.62L523.16,348.61L523.32,348.61L523.49,348.60L523.51,348.60L523.66,348.60L523.82,348.59L523.90,348.59L523.99,348.58L524.07,348.58L524.16,348.58L524.24,348.58L524.33,348.57L524.41,348.57L524.49,348.57L524.51,348.57L524.57,348.57L524.66,348.56L524.74,348.56L524.83,348.56L524.91,348.55L525.00,348.55L525.07,348.55L525.16,348.55L525.24,348.54L525.33,348.54L525.41,348.54L525.50,348.54L525.51,348.54L525.58,348.53L525.67,348.53L525.74,348.53L525.83,348.52L525.91,348.52L526.00,348.52L526.08,348.52L526.17,348.51L526.25,348.51L526.33,348.51L526.41,348.51L526.50,348.50L526.51,348.50L526.58,348.50L526.67,348.50L526.75,348.49L526.84,348.49L526.92,348.49L527.00,348.49L527.08,348.49L527.17,348.48L527.25,348.48L527.34,348.48L527.42,348.48L527.51,348.47L527.51,348.47L527.59,348.47L527.67,348.47L527.75,348.47L527.84,348.47L527.92,348.46L528.01,348.46L528.09,348.46L528.18,348.46L528.25,348.45L528.34,348.45L528.42,348.45L528.51,348.45L528.51,348.45L528.59,348.44L528.68,348.44L528.76,348.44L528.85,348.44L528.92,348.43L529.01,348.43L529.09,348.43L529.18,348.42L529.26,348.42L529.35,348.42L529.43,348.42L529.51,348.42L529.51,348.42L529.59,348.41L529.68,348.41L529.76,348.41L529.85,348.41L529.93,348.41L530.02,348.40L530.10,348.40L530.18,348.40L530.26,348.40L530.35,348.39L530.43,348.39L530.51,348.38L530.52,348.38L530.60,348.38L530.69,348.37L530.77,348.37L530.85,348.36L530.93,348.36L531.02,348.35L531.10,348.34L531.19,348.34L531.27,348.33L531.36,348.32L531.43,348.31L531.52,348.30L531.52,348.30L531.60,348.29L531.69,348.28L531.77,348.26L531.86,348.25L531.94,348.24L532.02,348.22L532.10,348.21L532.19,348.19L532.27,348.17L532.36,348.15L532.44,348.13L532.52,348.11L532.53,348.11L532.61,348.09L532.69,348.07L532.77,348.04L532.86,348.02L532.94,347.99L533.03,347.96L533.11,347.94L533.20,347.90L533.28,347.87L533.36,347.84L533.44,347.81L533.52,347.78L533.53,347.77L533.61,347.74L533.70,347.70L533.78,347.66L533.87,347.62L533.95,347.58L534.03,347.54L534.11,347.49L534.20,347.45L534.28,347.40L534.37,347.36L534.45,347.31L534.52,347.27L534.54,347.26L534.61,347.21L534.70,347.16L534.78,347.11L534.87,347.06L534.95,347.01L535.04,346.96L535.12,346.91L535.20,346.85L535.28,346.80L535.37,346.74L535.45,346.69L535.52,346.65L535.54,346.64L535.62,346.59L535.71,346.53L535.79,346.48L535.87,346.43L535.95,346.38L536.04,346.32L536.12,346.28L536.21,346.22L536.29,346.18L536.38,346.13L536.46,346.08L536.52,346.05L536.54,346.04L536.62,346.00L536.71,345.95L536.79,345.91L536.88,345.87L536.96,345.84L537.05,345.80L537.13,345.76L537.21,345.73L537.29,345.70L537.38,345.67L537.46,345.65L537.52,345.63L537.55,345.62L537.63,345.60L537.72,345.58L537.79,345.56L537.88,345.54L537.96,345.53L538.05,345.51L538.13,345.50L538.22,345.49L538.30,345.49L538.38,345.48L538.46,345.48L538.52,345.48L538.55,345.48L538.63,345.47L538.72,345.48L538.80,345.49L538.89,345.51L538.97,345.53L539.05,345.55L539.13,345.57L539.22,345.60L539.30,345.62L539.39,345.65L539.47,345.68L539.52,345.70L539.56,345.72L539.64,345.75L539.72,345.78L539.80,345.81L539.89,345.85L539.97,345.88L540.06,345.92L540.14,345.95L540.23,345.99L540.30,346.03L540.39,346.07L540.47,346.10L540.52,346.13L540.56,346.14L540.64,346.18L540.73,346.22L540.81,346.26L540.90,346.30L540.97,346.33L541.06,346.37L541.14,346.41L541.23,346.45L541.31,346.49L541.40,346.53L541.48,346.56L541.53,346.58L541.56,346.60L541.64,346.64L541.73,346.67L541.81,346.71L541.90,346.75L541.98,346.78L542.07,346.82L542.15,346.85L542.23,346.89L542.31,346.92L542.40,346.95L542.48,346.99L542.53,347.00L542.57,347.02L542.65,347.05L542.74,347.08L542.81,347.11L542.90,347.14L542.98,347.17L543.07,347.20L543.15,347.23L543.24,347.26L543.32,347.29L543.41,347.32L543.48,347.34L543.53,347.35L543.57,347.37L543.65,347.39L543.74,347.42L543.82,347.44L543.91,347.47L543.99,347.49L544.08,347.51L544.15,347.53L544.24,347.55L544.32,347.57L544.41,347.59L544.49,347.61L544.53,347.62L544.58,347.63L544.66,347.65L544.74,347.66L544.82,347.68L544.91,347.70L544.99,347.71L545.08,347.73L545.16,347.74L545.25,347.75L545.33,347.77L545.41,347.78L545.49,347.79L545.53,347.79L545.58,347.80L545.66,347.81L545.75,347.82L545.83,347.83L545.92,347.83L545.99,347.84L546.08,347.85L546.16,347.85L546.25,347.86L546.33,347.86L546.42,347.87L546.50,347.87L546.53,347.87L546.58,347.87L546.66,347.87L546.75,347.87L546.83,347.87L546.92,347.87L547.00,347.87L547.09,347.87L547.17,347.87L547.25,347.86L547.33,347.86L547.42,347.86L547.50,347.85L547.53,347.85L547.59,347.84L547.67,347.84L547.76,347.83L547.84,347.82L547.92,347.81L548.00,347.80L548.09,347.79L548.17,347.77L548.26,347.76L548.34,347.75L548.43,347.73L548.51,347.72L548.53,347.71L548.59,347.70L548.67,347.68L548.76,347.66L548.84,347.64L548.93,347.62L549.01,347.60L549.10,347.58L549.17,347.56L549.26,347.53L549.34,347.51L549.43,347.48L549.51,347.45L549.54,347.45L549.60,347.42L549.68,347.40L549.76,347.36L549.84,347.33L549.93,347.30L550.01,347.27L550.10,347.23L550.18,347.20L550.27,347.16L550.35,347.12L550.43,347.08L550.51,347.05L550.54,347.03L550.60,347.00L550.68,346.96L550.77,346.92L550.85,346.88L550.94,346.83L551.02,346.78L551.10,346.73L551.18,346.69L551.27,346.64L551.35,346.59L551.44,346.53L551.52,346.48L551.54,346.47L551.61,346.43L551.69,346.38L551.77,346.32L551.85,346.27L551.94,346.20L552.02,346.15L552.11,346.09L552.19,346.03L552.28,345.97L552.35,345.91L552.44,345.85L552.52,345.79L552.54,345.77L552.61,345.72L552.69,345.66L552.78,345.59L552.86,345.53L552.94,345.47L553.02,345.40L553.11,345.34L553.19,345.28L553.28,345.21L553.36,345.15L553.45,345.08L553.53,345.02L553.54,345.01L553.61,344.95L553.69,344.89L553.78,344.82L553.86,344.77L553.95,344.70L554.03,344.65L554.12,344.59L554.20,344.53L554.28,344.47L554.36,344.42L554.45,344.37L554.53,344.33L554.54,344.32L554.62,344.28L554.70,344.24L554.79,344.20L554.87,344.17L554.95,344.14L555.03,344.11L555.12,344.10L555.20,344.14L555.29,344.18L555.37,344.22L555.46,344.27L555.53,344.31L555.54,344.31L555.62,344.36L555.70,344.40L555.79,344.45L555.87,344.49L555.96,344.54L556.04,344.58L556.12,344.63L556.20,344.67L556.29,344.72L556.37,344.76L556.46,344.81L556.54,344.85L556.54,344.85L556.63,344.89L556.71,344.93L556.79,344.98L556.87,345.02L556.96,345.06L557.04,345.10L557.13,345.15L557.21,345.19L557.30,345.23L557.38,345.27L557.46,345.31L557.54,345.35L557.63,345.39L557.71,345.43L557.80,345.47L557.88,345.50L557.97,345.54L558.04,345.58L558.13,345.62L558.21,345.65L558.30,345.69L558.38,345.73L558.47,345.76L558.54,345.80L558.55,345.80L558.64,345.83L558.71,345.87L558.80,345.90L558.88,345.93L558.97,345.97L559.05,346.00L559.14,346.03L559.22,346.06L559.30,346.10L559.38,346.13L559.47,346.16L559.55,346.19L559.55,346.19L559.64,346.22L559.72,346.25L559.81,346.28L559.89,346.31L559.97,346.34L560.05,346.37L560.14,346.40L560.22,346.42L560.31,346.45L560.39,346.48L560.48,346.51L560.55,346.53L560.56,346.53L560.64,346.56L560.72,346.58L560.81,346.61L560.89,346.63L560.98,346.66L561.06,346.68L561.14,346.71L561.22,346.73L561.31,346.76L561.39,346.78L561.48,346.80L561.55,346.82L561.56,346.83L561.65,346.85L561.73,346.87L561.82,346.89L561.89,346.91L561.98,346.94L562.06,346.96L562.15,346.98L562.23,347.00L562.32,347.02L562.40,347.04L562.48,347.06L562.55,347.08L562.56,347.08L562.65,347.10L562.73,347.12L562.82,347.14L562.90,347.15L562.99,347.17L563.07,347.19L563.15,347.21L563.23,347.23L563.32,347.24L563.40,347.26L563.49,347.28L563.55,347.29L563.57,347.29L563.66,347.31L563.73,347.33L563.82,347.34L563.90,347.36L563.99,347.37L564.07,347.39L564.16,347.40L564.24,347.42L564.32,347.44L564.40,347.45L564.49,347.46L564.55,347.48L564.57,347.48L564.66,347.49L564.74,347.51L564.83,347.52L564.91,347.54L565.00,347.55L565.07,347.56L565.16,347.58L565.24,347.59L565.33,347.60L565.41,347.61L565.50,347.63L565.55,347.64L565.58,347.64L565.66,347.65L565.74,347.66L565.83,347.68L565.91,347.69L566.00,347.70L566.08,347.71L566.17,347.72L566.25,347.73L566.33,347.74L566.41,347.75L566.50,347.77L566.55,347.77L566.58,347.78L566.67,347.79L566.75,347.80L566.84,347.81L566.91,347.82L567.00,347.83L567.08,347.84L567.17,347.85L567.25,347.86L567.34,347.87L567.42,347.87L567.50,347.88L567.55,347.89L567.58,347.89L567.67,347.90L567.75,347.91L567.84,347.92L567.92,347.93L568.01,347.94L568.09,347.94L568.18,347.95L568.25,347.96L568.34,347.97L568.42,347.98L568.51,347.98L568.56,347.99L568.59,347.99L568.68,348.00L568.76,348.01L568.84,348.01L568.92,348.02L569.01,348.03L569.09,348.03L569.18,348.04L569.26,348.05L569.35,348.06L569.43,348.06L569.51,348.07L569.56,348.07L569.59,348.07L569.68,348.08L569.76,348.09L569.85,348.09L569.93,348.10L570.09,348.11L570.26,348.12L570.43,348.13L570.56,348.14L570.60,348.15L570.76,348.16L570.93,348.17L571.10,348.18L571.27,348.19L571.43,348.20L571.56,348.20L571.60,348.21L571.77,348.21L571.94,348.22L572.10,348.23L572.27,348.24L572.44,348.25L572.56,348.25L572.60,348.26L572.77,348.26L572.94,348.27L573.11,348.28L573.27,348.29L573.44,348.29L573.56,348.30L573.61,348.30L573.78,348.31L573.94,348.31L574.11,348.32L574.28,348.32L574.45,348.33L574.56,348.33L574.61,348.34L574.78,348.34L574.95,348.35L575.12,348.35L575.28,348.35L575.45,348.36L575.56,348.36L575.62,348.36L575.78,348.37L575.95,348.37L576.12,348.37L576.29,348.37L576.45,348.38L576.56,348.38L576.62,348.38L576.79,348.38L576.96,348.38L577.12,348.38L577.29,348.38L577.46,348.38L577.57,348.38L577.63,348.37L577.79,348.37L577.96,348.37L578.13,348.36L578.30,348.36L578.46,348.35L578.57,348.35L578.63,348.35L578.80,348.34L578.96,348.33L579.13,348.32L579.30,348.32L579.47,348.31L579.57,348.30L579.63,348.29L579.80,348.28L579.97,348.27L580.14,348.26L580.30,348.25L580.47,348.24L580.57,348.23L580.64,348.22L580.81,348.21L580.97,348.20L581.14,348.19L581.31,348.18L581.48,348.17L581.57,348.16L581.64,348.16L581.81,348.15L581.98,348.14L582.14,348.13L582.31,348.13L582.48,348.13L582.57,348.12L582.65,348.12L582.81,348.12L582.98,348.12L583.15,348.12L583.32,348.13L583.48,348.13L583.57,348.13L583.65,348.13L583.82,348.14L583.99,348.14L584.15,348.15L584.32,348.16L584.49,348.17L584.57,348.17L584.66,348.18L584.82,348.19L584.99,348.20L585.16,348.21L585.32,348.22L585.49,348.23L585.57,348.23L585.66,348.24L585.83,348.25L585.99,348.26L586.16,348.28L586.33,348.29L586.58,348.31L587.58,348.38L588.58,348.44L589.58,348.50L590.58,348.53L591.58,348.56L592.58,348.58L593.58,348.59L594.58,348.60L595.58,348.61L596.59,348.61L597.59,348.62L598.59,348.62L599.59,348.63L600.59,348.64L601.59,348.64L602.59,348.65L603.59,348.66L604.60,348.68L605.60,348.69L606.60,348.70L607.60,348.71L608.60,348.72L609.60,348.73L610.60,348.75L611.60,348.76L612.60,348.77L613.61,348.78L614.61,348.79L615.61,348.80L616.61,348.81L617.61,348.83L618.61,348.84L619.61,348.85L620.61,348.86L621.61,348.85L622.41,348.85L622.58,348.85L622.61,348.85L622.74,348.85L622.91,348.85L623.08,348.85L623.25,348.85L623.41,348.85L623.58,348.85L623.62,348.85L623.75,348.85L623.92,348.85L624.08,348.85L624.25,348.85L624.42,348.85L624.59,348.85L624.62,348.85L624.75,348.85L624.92,348.85L625.09,348.84L625.26,348.84L625.42,348.84L625.59,348.84L625.62,348.84L625.76,348.84L625.92,348.84L626.09,348.84L626.26,348.84L626.43,348.84L626.59,348.84L626.62,348.84L626.76,348.84L626.93,348.84L627.10,348.84L627.26,348.84L627.43,348.83L627.60,348.83L627.62,348.83L627.77,348.83L627.93,348.83L628.10,348.83L628.27,348.83L628.44,348.83L628.60,348.83L628.62,348.83L628.77,348.83L628.94,348.83L629.10,348.82L629.27,348.82L629.44,348.82L629.61,348.82L629.62,348.82L629.77,348.82L629.94,348.82L630.11,348.81L630.28,348.81L630.44,348.81L630.61,348.81L630.62,348.81L630.78,348.80L630.94,348.80L631.11,348.80L631.28,348.80L631.45,348.79L631.62,348.79L631.63,348.79L631.78,348.79L631.95,348.78L632.12,348.78L632.28,348.77L632.45,348.77L632.62,348.76L632.63,348.76L632.79,348.76L632.95,348.75L633.12,348.75L633.29,348.74L633.46,348.73L633.62,348.73L633.63,348.73L633.79,348.72L633.96,348.71L634.12,348.70L634.29,348.69L634.46,348.68L634.63,348.67L634.80,348.66L634.96,348.64L635.13,348.63L635.30,348.61L635.46,348.60L635.63,348.58L635.63,348.58L635.80,348.56L635.97,348.54L636.13,348.52L636.30,348.50L636.47,348.48L636.63,348.45L636.64,348.45L636.80,348.42L636.97,348.39L637.14,348.36L637.30,348.33L637.47,348.29L637.63,348.25L637.64,348.25L637.81,348.21L637.97,348.17L638.14,348.12L638.31,348.07L638.48,348.01L638.63,347.96L638.64,347.95L638.81,347.89L638.98,347.82L639.15,347.75L639.31,347.67L639.48,347.59L639.63,347.51L639.65,347.50L639.82,347.41L639.98,347.30L640.15,347.20L640.32,347.08L640.48,346.96L640.63,346.84L640.65,346.82L640.82,346.68L640.99,346.53L641.15,346.37L641.32,346.19L641.49,346.01L641.64,345.84L641.66,345.81L641.82,345.60L641.99,345.37L642.16,345.13L642.33,344.87L642.49,344.60L642.64,344.35L642.66,344.30L642.83,343.99L643.00,343.66L643.16,343.30L643.33,342.92L643.50,342.51L643.64,342.15L643.66,342.08L643.83,341.61L644.00,341.12L644.17,340.59L644.33,340.03L644.50,339.43L644.64,338.91L644.67,338.79L644.84,338.12L645.00,337.39L645.17,336.61L645.34,335.79L645.51,334.92L645.64,334.17L645.67,333.99L645.84,333.00L646.01,331.94L646.18,330.82L646.34,329.63L646.51,328.36L646.64,327.31L646.68,327.01L646.84,325.58L647.01,324.06L647.18,322.44L647.35,320.73L647.51,318.91L647.64,317.43L647.68,316.97L647.85,314.92L648.02,312.74L648.18,310.44L648.35,307.99L648.52,305.38L648.64,303.34L648.69,302.63L648.85,299.72L649.02,296.65L649.19,293.39L649.36,289.95L649.52,286.31L649.64,283.52L649.69,282.46L649.86,278.40L650.02,274.12L650.19,269.60L650.36,264.83L650.53,259.81L650.65,256.05L650.69,254.53L650.86,248.97L651.03,243.12L651.20,236.99L651.36,230.55L651.53,223.80L651.65,218.88L651.70,216.74L651.86,209.36L652.03,201.60L652.20,193.58L652.37,185.24L652.54,176.59L652.65,170.62L652.70,167.66L652.87,158.48L653.04,149.09L653.20,139.58L653.37,130.11L653.54,121.05L653.65,118.73L653.71,122.16L653.87,132.08L654.04,141.69L654.21,150.96L654.38,159.86L654.54,168.40L654.65,173.69L654.71,176.58L654.88,184.41L655.04,191.91L655.21,199.08L655.38,205.99L655.55,212.54L655.65,216.45L655.72,218.80L655.88,224.78L656.05,230.50L656.22,235.96L656.38,241.17L656.55,246.15L656.65,249.05L656.72,250.91L656.89,255.45L657.05,259.78L657.22,263.91L657.39,267.86L657.56,271.62L657.65,273.76L657.72,275.22L657.89,278.65L658.06,281.92L658.22,285.04L658.39,288.01L658.56,290.85L658.66,292.43L658.73,293.56L658.90,296.16L659.06,298.63L659.23,300.98L659.40,303.22L659.56,305.35L659.66,306.47L659.73,307.39L659.90,309.33L660.07,311.18L660.23,312.95L660.40,314.63L660.57,316.24L660.66,317.06L660.74,317.77L660.90,319.22L661.07,320.61L661.24,321.94L661.40,323.20L661.57,324.41L661.66,325.01L661.74,325.55L661.91,326.65L662.07,327.69L662.24,328.68L662.41,329.64L662.58,330.54L662.66,330.97L662.74,331.40L662.91,332.22L663.08,333.00L663.25,333.74L663.41,334.45L663.58,335.13L663.66,335.44L663.75,335.77L663.92,336.38L664.08,336.97L664.25,337.52L664.42,338.05L664.58,338.56L664.66,338.79L664.75,339.04L664.92,339.50L665.09,339.94L665.25,340.35L665.42,340.75L665.59,341.13L665.66,341.29L665.76,341.49L665.92,341.83L666.09,342.16L666.26,342.47L666.43,342.76L666.59,343.05L666.66,343.16L666.76,343.31L666.93,343.57L667.10,343.81L667.26,344.04L667.43,344.27L667.60,344.48L667.66,344.56L667.76,344.68L667.93,344.87L668.10,345.05L668.27,345.22L668.43,345.39L668.60,345.54L668.67,345.60L668.77,345.69L668.94,345.83L669.10,345.97L669.27,346.10L669.44,346.22L669.61,346.34L669.67,346.38L669.77,346.45L669.94,346.56L670.11,346.66L670.28,346.75L670.44,346.84L670.61,346.93L670.67,346.96L670.78,347.01L670.94,347.09L671.11,347.17L671.28,347.24L671.45,347.31L671.61,347.37L671.67,347.39L671.78,347.43L671.95,347.49L672.12,347.55L672.28,347.60L672.45,347.65L672.62,347.70L672.67,347.71L672.79,347.74L672.95,347.79L673.12,347.83L673.29,347.87L673.46,347.90L673.62,347.94L673.67,347.95L673.79,347.97L673.96,348.01L674.12,348.04L674.29,348.07L674.46,348.09L674.63,348.12L674.67,348.13L674.79,348.14L674.96,348.17L675.13,348.19L675.30,348.21L675.46,348.23L675.63,348.25L675.67,348.26L675.80,348.27L675.96,348.29L676.13,348.30L676.30,348.32L676.47,348.33L676.63,348.35L676.67,348.35L676.80,348.36L676.97,348.38L677.14,348.39L677.30,348.41L677.47,348.42L677.64,348.43L677.68,348.43L677.81,348.44L677.97,348.45L678.14,348.46L678.31,348.47L678.48,348.48L678.64,348.49L678.68,348.49L678.81,348.50L678.98,348.51L679.14,348.52L679.31,348.53L679.48,348.53L679.65,348.54L679.68,348.54L679.81,348.55L679.98,348.55L680.15,348.56L680.32,348.57L680.48,348.57L680.65,348.58L680.68,348.58L680.82,348.58L680.99,348.59L681.15,348.59L681.32,348.60L681.49,348.60L681.66,348.61L681.68,348.61L681.82,348.61L681.99,348.61L682.16,348.62L682.32,348.62L682.49,348.63L682.66,348.63L682.68,348.63L682.83,348.63L682.99,348.64L683.16,348.64L683.33,348.64L683.50,348.64L683.66,348.65L683.68,348.65L683.83,348.65L684.00,348.65L684.17,348.66L684.33,348.66L684.50,348.66L684.67,348.66L684.68,348.66L684.84,348.66L685.68,348.68L686.69,348.69L687.69,348.70L688.69,348.70L689.69,348.71L690.69,348.72L691.69,348.73L692.69,348.73L693.69,348.74L694.69,348.75L695.70,348.75L696.70,348.76L697.70,348.76L698.70,348.77L699.70,348.78L700.70,348.78L701.70,348.79L702.70,348.79L703.70,349.40L704.70,349.40L705.71,349.41L706.71,349.41L707.71,349.42L708.71,349.43L709.71,349.43L710.71,349.44L711.71,349.44L712.71,349.45L713.72,349.45L714.72,349.46L715.72,349.46L716.72,349.46L717.72,349.46L718.72,349.46L719.72,349.46L720.72,349.46L721.72,349.47L722.72,349.47L723.73,349.47L724.73,349.47L725.73,349.47L726.73,349.47L727.73,349.47L728.73,349.47L729.73,349.47L730.73,349.48L731.74,349.48L732.74,349.48L733.74,349.48L734.74,349.48L735.74,349.48L736.74,349.48L737.74,349.48L738.74,349.49L739.74,349.49L740.75,349.49L741.75,349.49L742.75,349.49L743.75,349.49L744.75,349.49L745.75,349.49L746.75,348.89L747.75,348.90L748.75,348.90L749.75,348.90L750.76,348.90"/>
<!-- inset -->
<rect x="70.5" y="23.5" width="341" height="201" fill="#fff" stroke="#222" stroke-width="1"/>
<path class="ax" d="M91.5,31V209.5M91.5,209.5H397.5"/>
<path d="M91.5,207.60H93M91.5,203.68H93M91.5,199.76H93M91.5,195.84H93M91.5,191.92H93M91.5,188.00H93M91.5,184.08H93M91.5,180.16H93M91.5,176.24H93M91.5,172.32H93M91.5,168.40H93M91.5,164.48H93M91.5,160.56H93M91.5,156.64H93M91.5,152.72H93M91.5,148.80H93M91.5,144.88H93M91.5,140.96H93M91.5,137.04H93M91.5,133.12H93M91.5,129.20H93M91.5,125.28H93M91.5,121.36H93M91.5,117.44H93M91.5,113.52H93M91.5,109.60H93M91.5,105.68H93M91.5,101.76H93M91.5,97.84H93M91.5,93.92H93M91.5,90.00H93M91.5,86.08H93M91.5,82.16H93M91.5,78.24H93M91.5,74.32H93M91.5,70.40H93M91.5,66.48H93M91.5,62.56H93M91.5,58.64H93M91.5,54.72H93M91.5,50.80H93M91.5,46.88H93M91.5,42.96H93M91.5,39.04H93M91.5,35.12H93M96.77,209.5V211.0M108.61,209.5V211.0M120.44,209.5V211.0M132.28,209.5V212.5M144.12,209.5V211.0M155.95,209.5V211.0M167.79,209.5V211.0M179.62,209.5V211.0M191.46,209.5V212.5M203.30,209.5V211.0M215.13,209.5V211.0M226.97,209.5V211.0M238.80,209.5V211.0M250.64,209.5V212.5M262.48,209.5V211.0M274.31,209.5V211.0M286.15,209.5V211.0M297.98,209.5V211.0M309.82,209.5V212.5M321.66,209.5V211.0M333.49,209.5V211.0M345.33,209.5V211.0M357.16,209.5V211.0M369.00,209.5V212.5M380.84,209.5V211.0M392.67,209.5V211.0" stroke="#333" stroke-width="1" fill="none"/>
<g transform="translate(84.20,211.20) scale(0.92,1.0)"><text x="0" y="0" text-anchor="middle" style="font-size:10px">0</text></g>
<g transform="translate(84.20,191.60) scale(0.92,1.0)"><text x="0" y="0" text-anchor="middle" style="font-size:10px">10</text></g>
<g transform="translate(84.20,172.00) scale(0.92,1.0)"><text x="0" y="0" text-anchor="middle" style="font-size:10px">20</text></g>
<g transform="translate(84.20,152.40) scale(0.92,1.0)"><text x="0" y="0" text-anchor="middle" style="font-size:10px">30</text></g>
<g transform="translate(84.20,132.80) scale(0.92,1.0)"><text x="0" y="0" text-anchor="middle" style="font-size:10px">40</text></g>
<g transform="translate(84.20,113.20) scale(0.92,1.0)"><text x="0" y="0" text-anchor="middle" style="font-size:10px">50</text></g>
<g transform="translate(84.20,93.60) scale(0.92,1.0)"><text x="0" y="0" text-anchor="middle" style="font-size:10px">60</text></g>
<g transform="translate(84.20,74.00) scale(0.92,1.0)"><text x="0" y="0" text-anchor="middle" style="font-size:10px">70</text></g>
<g transform="translate(84.20,54.40) scale(0.92,1.0)"><text x="0" y="0" text-anchor="middle" style="font-size:10px">80</text></g>
<g transform="translate(80.5,37.5) scale(0.92,1)"><text x="0" y="0" text-anchor="middle" style="font-size:9px">mAU</text></g>
<g transform="translate(130.48,220.70) scale(0.9,1.05)"><text x="0" y="0" text-anchor="start" style="font-size:10px">10</text></g>
<g transform="translate(189.66,220.70) scale(0.9,1.05)"><text x="0" y="0" text-anchor="start" style="font-size:10px">20</text></g>
<g transform="translate(248.84,220.70) scale(0.9,1.05)"><text x="0" y="0" text-anchor="start" style="font-size:10px">30</text></g>
<g transform="translate(308.02,220.70) scale(0.9,1.05)"><text x="0" y="0" text-anchor="start" style="font-size:10px">40</text></g>
<g transform="translate(367.20,220.70) scale(0.9,1.05)"><text x="0" y="0" text-anchor="start" style="font-size:10px">50</text></g>
<g transform="translate(394.2,220.7) scale(1,1)"><text x="0" y="0" style="font-size:10px">min</text></g>
<path class="tri" clip-path="url(#ic)" d="M91.45,206.28L92.45,206.69L93.45,206.66L94.46,206.38L95.46,206.37L96.46,206.46L97.46,206.47L98.47,206.46L99.47,206.43L100.47,206.41L101.48,206.56L102.48,206.72L103.48,206.56L104.49,206.41L105.49,206.46L106.49,206.45L107.50,206.07L108.50,205.83L109.50,206.11L110.51,206.33L111.51,206.38L112.51,206.41L113.52,206.40L114.52,206.41L115.52,206.44L116.52,206.48L117.53,206.51L118.53,206.49L119.53,206.42L120.54,206.35L121.54,206.27L122.54,206.29L123.55,206.35L124.55,206.28L125.55,206.17L126.56,206.24L127.56,206.35L128.56,206.33L129.57,206.31L130.57,206.17L131.57,206.04L132.57,206.13L133.58,206.22L134.58,206.32L135.58,206.39L136.59,206.35L137.59,206.31L138.59,206.24L139.60,206.15L140.60,206.02L141.60,206.04L142.61,206.23L143.61,206.33L144.61,206.33L145.62,206.26L146.62,206.15L147.62,206.21L148.63,206.38L149.63,206.39L150.63,206.34L151.63,206.24L152.64,206.13L153.64,206.13L154.64,206.16L155.65,206.20L156.65,206.24L157.65,206.19L158.66,206.16L159.66,206.48L160.66,206.71L161.67,206.35L162.67,206.11L163.67,206.29L164.68,206.43L165.68,206.50L166.01,206.52L166.18,206.53L166.35,206.53L166.52,206.50L166.68,206.47L166.68,206.47L166.85,206.44L167.02,206.41L167.19,206.38L167.36,206.35L167.53,206.32L167.69,206.29L167.69,206.29L167.86,206.26L168.03,206.23L168.20,206.20L168.37,206.19L168.53,206.18L168.69,206.17L168.70,206.17L168.87,206.16L169.04,206.16L169.21,206.15L169.38,206.14L169.54,206.14L169.69,206.13L169.71,206.13L169.88,206.12L170.05,206.11L170.22,206.10L170.38,206.12L170.55,206.13L170.69,206.15L170.72,206.15L170.89,206.16L171.06,206.17L171.22,206.19L171.39,206.20L171.56,206.20L171.70,206.21L171.73,206.21L171.90,206.21L172.06,206.22L172.23,206.21L172.40,206.19L172.57,206.18L172.70,206.16L172.74,206.15L172.91,206.12L173.07,206.08L173.24,206.02L173.41,205.96L173.58,205.88L173.70,205.82L173.75,205.79L173.91,205.66L174.08,205.52L174.25,205.32L174.42,205.09L174.59,204.82L174.71,204.61L174.76,204.52L174.92,204.16L175.09,203.76L175.26,203.29L175.43,202.76L175.60,202.15L175.71,201.68L175.76,201.45L175.93,200.65L176.10,199.76L176.27,198.75L176.44,197.62L176.60,196.34L176.71,195.42L176.77,194.90L176.94,193.29L177.11,191.50L177.28,189.52L177.44,187.34L177.61,184.94L177.72,183.36L177.78,182.33L177.95,179.49L178.12,176.40L178.29,173.10L178.45,169.59L178.62,165.89L178.72,163.66L178.79,162.01L178.96,158.01L179.13,153.91L179.29,149.77L179.46,145.67L179.63,141.68L179.72,139.55L179.80,137.87L179.97,134.44L180.14,131.62L180.30,129.78L180.47,133.31L180.64,137.86L180.73,140.13L180.81,142.23L180.98,146.38L181.14,150.30L181.31,153.99L181.48,157.45L181.65,160.69L181.73,162.17L181.82,163.72L181.98,166.55L182.15,169.19L182.32,171.64L182.49,173.93L182.66,176.06L182.73,176.96L182.83,178.03L182.99,179.87L183.16,181.57L183.33,183.15L183.50,184.62L183.67,185.98L183.74,186.52L183.83,187.23L184.00,188.37L184.17,189.43L184.34,190.40L184.51,191.29L184.67,192.12L184.74,192.42L184.84,192.88L185.01,193.58L185.18,194.22L185.35,194.81L185.52,195.35L185.68,195.90L185.74,196.09L185.85,196.44L186.02,196.95L186.19,197.42L186.36,197.85L186.52,198.26L186.69,198.63L186.75,198.75L186.86,198.98L187.03,199.31L187.20,199.61L187.36,199.88L187.53,200.14L187.70,200.38L187.75,200.44L187.87,200.59L188.04,200.79L188.21,200.97L188.37,201.14L188.54,201.30L188.71,201.44L188.75,201.47L188.88,201.57L189.05,201.70L189.21,201.81L189.38,201.92L189.55,202.01L189.72,202.07L189.75,202.08L189.89,202.12L190.05,202.16L190.22,202.20L190.39,202.23L190.56,202.26L190.73,202.28L190.76,202.28L190.89,202.30L191.06,202.31L191.23,202.32L191.40,202.33L191.57,202.34L191.74,202.36L191.76,202.36L191.90,202.38L192.07,202.40L192.24,202.42L192.41,202.43L192.58,202.44L192.74,202.45L192.76,202.45L192.91,202.46L193.08,202.47L193.25,202.48L193.42,202.48L193.59,202.49L193.75,202.51L193.77,202.51L193.92,202.52L194.09,202.53L194.26,202.55L194.43,202.56L194.59,202.57L194.76,202.58L194.77,202.58L194.93,202.58L195.10,202.59L195.27,202.60L195.43,202.60L195.60,202.61L195.77,202.61L196.78,202.62L197.78,202.59L198.78,202.54L199.79,202.67L200.79,202.96L201.79,202.91L202.80,202.65L203.80,202.61L204.80,202.66L205.80,202.84L206.81,203.07L207.81,203.01L208.81,202.89L209.57,202.96L209.74,202.98L209.82,202.99L209.91,203.00L210.07,203.02L210.24,203.04L210.41,203.06L210.58,203.08L210.75,203.10L210.82,203.11L210.91,203.10L211.08,203.08L211.25,203.06L211.42,203.04L211.59,203.01L211.75,202.99L211.82,202.98L211.92,202.97L212.09,202.94L212.26,202.92L212.43,202.89L212.60,202.86L212.76,202.84L212.83,202.84L212.93,202.87L213.10,202.91L213.27,202.94L213.44,202.98L213.60,203.01L213.77,203.04L213.83,203.06L213.94,203.07L214.11,203.10L214.28,203.12L214.44,203.14L214.61,203.16L214.78,203.15L214.83,203.13L214.95,203.09L215.12,203.03L215.29,202.98L215.45,202.93L215.62,202.86L215.79,202.79L215.84,202.77L215.96,202.71L216.13,202.61L216.29,202.51L216.46,202.39L216.63,202.25L216.80,202.10L216.84,202.06L216.97,201.92L217.13,201.72L217.30,201.51L217.47,201.27L217.64,201.00L217.81,200.71L217.84,200.65L217.98,200.39L218.14,200.04L218.31,199.66L218.48,199.24L218.65,198.79L218.82,198.32L218.85,198.23L218.98,197.80L219.15,197.24L219.32,196.64L219.49,196.00L219.66,195.30L219.82,194.56L219.85,194.45L219.99,193.77L220.16,192.93L220.33,192.04L220.50,191.10L220.67,190.17L220.83,189.20L220.85,189.09L221.00,188.18L221.17,187.13L221.34,186.04L221.51,184.92L221.67,183.78L221.84,182.61L221.86,182.52L222.01,181.44L222.18,180.27L222.35,179.10L222.51,177.94L222.68,176.75L222.85,175.62L222.86,175.57L223.02,174.54L223.19,173.56L223.36,172.67L223.52,171.92L223.69,171.35L223.86,171.02L223.86,171.01L224.03,171.05L224.20,171.24L224.36,171.54L224.53,171.95L224.70,172.46L224.86,173.04L224.87,173.05L225.04,173.73L225.20,174.47L225.37,175.29L225.54,176.15L225.71,177.07L225.87,177.97L225.88,178.03L226.05,179.02L226.21,180.04L226.38,181.08L226.55,182.16L226.72,183.25L226.87,184.25L226.89,184.34L227.05,185.43L227.22,186.51L227.39,187.57L227.56,188.61L227.62,188.98L227.73,189.64L227.79,190.00L227.87,190.51L227.89,190.64L227.96,190.99L228.06,191.60L228.12,191.94L228.23,192.54L228.29,192.86L228.40,193.41L228.46,193.71L228.57,194.23L228.63,194.52L228.74,195.02L228.80,195.29L228.88,195.65L228.90,195.77L228.96,196.03L229.07,196.48L229.13,196.73L229.24,197.15L229.30,197.38L229.41,197.79L229.47,198.00L229.58,198.38L229.64,198.59L229.74,198.94L229.80,199.13L229.88,199.37L229.91,199.46L229.97,199.64L230.08,199.95L230.14,200.12L230.25,200.42L230.31,200.61L230.42,200.92L230.48,201.09L230.58,201.38L230.65,201.54L230.75,201.82L230.81,201.97L230.88,202.13L230.92,202.22L230.98,202.36L231.09,202.60L231.15,202.72L231.26,202.95L231.32,203.07L231.43,203.27L231.49,203.38L231.59,203.57L231.65,203.68L231.76,203.85L231.82,203.95L231.89,204.05L231.93,204.11L231.99,204.20L232.10,204.35L232.16,204.43L232.27,204.53L232.33,204.58L232.43,204.67L232.49,204.72L232.60,204.80L232.66,204.84L232.77,204.91L232.83,204.95L232.89,204.99L232.94,205.01L233.00,205.03L233.11,205.06L233.17,205.08L233.27,205.11L233.34,205.12L233.44,205.15L233.50,205.16L233.61,205.18L233.67,205.19L233.78,205.20L233.84,205.20L233.89,205.21L233.95,205.21L234.01,205.22L234.12,205.23L234.18,205.25L234.28,205.27L234.34,205.29L234.45,205.31L234.51,205.32L234.62,205.34L234.68,205.35L234.79,205.36L234.85,205.36L234.90,205.36L234.96,205.36L235.02,205.36L235.12,205.36L235.18,205.35L235.29,205.33L235.35,205.31L235.46,205.27L235.52,205.24L235.63,205.17L235.69,205.12L235.80,205.02L235.86,204.95L235.90,204.89L235.96,204.80L236.03,204.69L236.13,204.43L236.19,204.26L236.30,203.91L236.36,203.68L236.47,203.20L236.53,202.89L236.64,202.24L236.70,201.83L236.81,200.96L236.87,200.40L236.90,200.03L236.97,199.24L237.03,198.49L237.14,196.95L237.20,195.96L237.31,193.92L237.37,192.62L237.48,189.95L237.54,188.25L237.65,184.79L237.71,182.59L237.81,178.12L237.87,175.27L237.91,173.73L237.98,169.61L238.04,166.00L238.15,158.86L238.21,154.30L238.32,145.28L238.38,139.63L238.49,128.42L238.55,121.44L238.65,107.63L238.72,99.08L238.82,82.25L238.88,71.89L238.91,67.31L238.99,51.61L239.05,39.18L239.16,28.00L239.22,28.00L239.39,28.00L239.56,28.00L239.72,28.00L239.89,28.00L239.91,28.00L240.06,28.00L240.23,28.00L240.40,28.00L240.56,28.00L240.73,28.00L240.90,28.00L240.91,28.00L241.07,28.00L241.24,28.00L241.40,28.00L241.57,28.00L241.74,28.00L241.91,28.00L241.92,28.00L242.08,28.00L242.25,28.00L242.41,28.00L242.58,28.00L242.75,28.00L242.92,28.00L242.92,28.00L243.09,28.00L243.25,28.00L243.42,28.00L243.59,28.00L243.76,28.00L243.92,28.00L243.93,28.00L244.10,28.00L244.26,28.00L244.43,28.00L244.60,28.00L244.77,28.00L244.93,28.00L244.94,28.00L245.10,28.00L245.27,28.00L245.44,28.00L245.61,28.00L245.78,28.92L245.93,43.91L245.94,45.16L246.11,59.94L246.28,73.37L246.45,85.57L246.62,96.66L246.79,106.74L246.93,114.91L246.95,115.90L247.12,124.23L247.29,131.78L247.46,138.63L247.63,144.84L247.79,150.46L247.94,154.84L247.96,155.56L248.13,160.19L248.30,164.38L248.47,168.19L248.63,171.63L248.80,174.75L248.94,177.09L248.97,177.59L249.14,180.15L249.31,182.47L249.48,184.57L249.64,186.46L249.81,188.18L249.94,189.41L249.98,189.73L250.15,191.13L250.32,192.40L250.48,193.55L250.65,194.58L250.82,195.53L250.95,196.18L250.99,196.39L251.16,197.16L251.32,197.86L251.49,198.50L251.66,199.09L251.83,199.62L251.95,199.97L252.00,200.11L252.17,200.55L252.33,200.94L252.50,201.31L252.67,201.64L252.84,201.93L252.95,202.12L253.01,202.20L253.17,202.45L253.34,202.67L253.51,202.88L253.68,203.07L253.85,203.24L253.96,203.34L254.01,203.40L254.18,203.54L254.35,203.67L254.52,203.79L254.69,203.90L254.86,204.00L254.96,204.06L255.02,204.09L255.19,204.18L255.36,204.26L255.53,204.32L255.70,204.37L255.86,204.42L255.96,204.45L256.03,204.47L256.20,204.51L256.37,204.55L256.54,204.58L256.70,204.61L256.87,204.64L256.97,204.65L257.04,204.67L257.21,204.69L257.97,204.77L258.97,204.83L259.98,204.73L260.98,204.55L261.98,204.74L262.98,205.02L263.99,204.99L264.99,204.93L265.99,204.91L267.00,204.90L268.00,204.86L269.00,204.80L270.01,204.75L271.01,204.72L272.01,204.87L273.02,204.98L274.02,205.01L275.02,204.97L276.03,204.79L277.03,204.62L278.03,204.49L279.03,204.43L280.04,204.44L281.04,204.47L282.04,204.50L282.89,204.52L283.05,204.52L283.06,204.52L283.23,204.53L283.40,204.53L283.57,204.54L283.73,204.54L283.90,204.55L284.05,204.55L284.07,204.55L284.24,204.55L284.41,204.56L284.57,204.54L284.74,204.53L284.91,204.52L285.05,204.51L285.08,204.51L285.25,204.49L285.41,204.48L285.58,204.47L285.75,204.45L285.92,204.44L286.06,204.43L286.09,204.43L286.26,204.41L286.42,204.40L286.59,204.40L286.76,204.39L286.93,204.39L287.06,204.39L287.10,204.39L287.26,204.38L287.43,204.38L287.60,204.38L287.77,204.38L287.94,204.37L288.06,204.37L288.11,204.37L288.27,204.37L288.44,204.34L288.61,204.31L288.78,204.28L288.95,204.26L289.07,204.24L289.11,204.23L289.28,204.20L289.45,204.17L289.62,204.15L289.79,204.12L289.95,204.09L290.07,204.07L290.12,204.06L290.29,204.06L290.46,204.07L290.63,204.09L290.70,204.09L290.79,204.10L290.87,204.10L290.96,204.11L291.04,204.12L291.07,204.12L291.13,204.13L291.21,204.13L291.30,204.14L291.38,204.15L291.47,204.15L291.55,204.16L291.64,204.17L291.71,204.17L291.80,204.18L291.88,204.18L291.97,204.19L292.05,204.20L292.08,204.20L292.14,204.21L292.22,204.20L292.31,204.19L292.39,204.18L292.48,204.17L292.55,204.15L292.64,204.14L292.72,204.12L292.81,204.11L292.89,204.09L292.98,204.06L293.06,204.04L293.08,204.03L293.15,204.00L293.23,203.97L293.32,203.93L293.39,203.88L293.49,203.82L293.56,203.76L293.65,203.68L293.73,203.60L293.82,203.49L293.90,203.39L293.99,203.25L294.07,203.12L294.08,203.09L294.16,202.95L294.24,202.79L294.33,202.58L294.40,202.38L294.49,202.12L294.57,201.87L294.66,201.56L294.74,201.27L294.83,200.90L294.91,200.56L295.00,200.14L295.08,199.76L295.09,199.71L295.17,199.29L295.24,198.87L295.33,198.36L295.41,197.91L295.50,197.37L295.58,196.90L295.67,196.35L295.75,195.87L295.84,195.32L295.92,194.85L296.01,194.32L296.08,193.87L296.09,193.85L296.17,193.38L296.25,192.97L296.34,192.53L296.42,192.18L296.51,191.81L296.59,191.53L296.68,191.24L296.76,191.03L296.85,190.83L296.93,190.70L297.02,190.59L297.09,190.53L297.09,190.53L297.18,190.49L297.26,190.53L297.35,190.68L297.43,190.87L297.52,191.13L297.60,191.38L297.69,191.70L297.77,191.99L297.86,192.35L297.93,192.67L298.02,193.06L298.09,193.37L298.10,193.40L298.19,193.80L298.27,194.15L298.36,194.55L298.44,194.90L298.53,195.29L298.61,195.63L298.70,196.02L298.77,196.35L298.87,196.72L298.94,197.03L299.03,197.38L299.10,197.62L299.11,197.68L299.20,198.00L299.28,198.28L299.37,198.58L299.45,198.83L299.54,199.11L299.62,199.34L299.71,199.59L299.78,199.80L299.87,200.02L299.95,200.19L300.04,200.36L300.10,200.47L300.12,200.50L300.21,200.64L300.29,200.76L300.38,200.87L300.46,200.96L300.55,201.05L300.62,201.11L300.71,201.17L300.79,201.21L300.88,201.24L300.96,201.25L301.05,201.24L301.10,201.23L301.13,201.23L301.22,201.19L301.30,201.15L301.39,201.08L301.46,201.00L301.55,200.90L301.63,200.80L301.72,200.66L301.80,200.52L301.89,200.37L301.97,200.22L302.06,200.03L302.11,199.92L302.14,199.85L302.23,199.62L302.31,199.40L302.40,199.12L302.47,198.87L302.56,198.54L302.64,198.25L302.73,197.88L302.81,197.54L302.90,197.13L302.98,196.75L303.07,196.29L303.11,196.06L303.15,195.87L303.24,195.36L303.31,194.90L303.40,194.35L303.48,193.85L303.57,193.26L303.65,192.73L303.74,192.11L303.82,191.55L303.91,190.89L303.99,190.31L304.08,189.64L304.11,189.37L304.15,189.06L304.25,188.38L304.32,187.81L304.41,187.16L304.49,186.62L304.58,186.02L304.66,185.53L304.75,185.01L304.83,184.62L304.92,184.25L305.00,184.03L305.09,184.25L305.12,184.40L305.16,184.63L305.25,185.09L305.33,185.50L305.42,185.97L305.50,186.37L305.59,186.84L305.67,187.23L305.76,187.71L305.84,188.12L305.93,188.59L306.00,188.99L306.09,189.45L306.12,189.57L306.17,189.83L306.26,190.27L306.34,190.64L306.43,191.06L306.51,191.42L306.60,191.82L306.68,192.16L306.77,192.55L306.85,192.88L306.93,193.25L307.01,193.56L307.10,193.92L307.12,193.99L307.18,194.22L307.27,194.55L307.35,194.84L307.44,195.16L307.52,195.43L307.61,195.74L307.69,195.97L307.78,196.22L307.85,196.43L307.94,196.67L308.02,196.87L308.11,197.09L308.13,197.13L308.19,197.28L308.28,197.49L308.36,197.67L308.45,197.87L308.53,198.04L308.62,198.22L308.69,198.38L308.78,198.56L308.86,198.70L308.95,198.87L309.03,199.01L309.12,199.16L309.13,199.18L309.20,199.29L309.29,199.44L309.37,199.56L309.46,199.70L309.53,199.81L309.62,199.95L309.70,200.08L309.79,200.21L309.87,200.33L309.96,200.46L310.04,200.58L310.13,200.70L310.13,200.71L310.21,200.81L310.30,200.93L310.38,201.03L310.47,201.14L310.54,201.24L310.63,201.34L310.71,201.43L310.80,201.53L310.88,201.62L310.97,201.71L311.05,201.79L311.14,201.88L311.14,201.88L311.22,201.96L311.31,202.04L311.38,202.12L311.47,202.20L311.55,202.26L311.64,202.32L311.72,202.37L311.81,202.44L311.89,202.49L311.98,202.54L312.06,202.59L312.14,202.64L312.15,202.64L312.23,202.69L312.32,202.73L312.39,202.78L312.48,202.82L312.56,202.86L312.73,202.94L312.90,203.01L313.07,203.08L313.14,203.11L313.23,203.14L313.40,203.20L313.57,203.30L313.74,203.41L313.91,203.52L314.07,203.62L314.14,203.66L314.24,203.72L314.41,203.81L314.58,203.90L314.75,203.98L314.91,204.06L315.08,204.12L315.15,204.15L315.25,204.18L315.42,204.20L315.59,204.14L315.76,204.07L315.92,203.98L316.09,203.87L316.15,203.83L316.26,203.76L316.43,203.62L316.60,203.47L316.76,203.32L316.93,203.15L317.10,202.98L317.15,202.92L317.27,202.81L317.44,202.69L317.61,202.59L317.77,202.52L317.94,202.46L318.11,202.44L318.16,202.44L318.28,202.44L318.45,202.47L318.61,202.52L318.78,202.58L318.95,202.65L319.12,202.74L319.16,202.77L319.29,202.85L319.45,203.00L319.62,203.15L319.79,203.31L319.96,203.46L320.13,203.62L320.16,203.66L320.29,203.78L321.17,204.49L322.17,204.81L323.17,204.94L324.18,205.00L325.18,205.04L326.18,205.02L327.19,205.01L328.19,205.04L329.19,205.08L330.20,205.06L331.20,205.16L332.20,205.48L333.20,205.67L334.21,205.69L335.21,205.79L336.21,205.95L337.22,205.90L337.40,205.87L337.57,205.84L337.73,205.81L337.90,205.78L338.07,205.75L338.22,205.73L338.24,205.72L338.41,205.69L338.57,205.66L338.74,205.67L338.91,205.68L339.08,205.68L339.22,205.69L339.25,205.69L339.42,205.70L339.58,205.70L339.75,205.71L339.92,205.71L340.09,205.72L340.23,205.72L340.26,205.72L340.42,205.72L340.59,205.70L340.76,205.67L340.93,205.64L341.10,205.60L341.23,205.57L341.26,205.56L341.43,205.52L341.60,205.47L341.77,205.41L341.94,205.35L342.11,205.27L342.23,205.21L342.27,205.19L342.44,205.10L342.61,205.03L342.78,204.96L342.95,204.87L343.11,204.76L343.24,204.66L343.28,204.62L343.45,204.46L343.62,204.27L343.79,204.04L343.96,203.76L344.12,203.44L344.24,203.19L344.29,203.07L344.46,202.61L344.63,202.04L344.80,201.39L344.96,200.64L345.13,199.77L345.24,199.13L345.30,198.78L345.47,197.63L345.64,196.30L345.80,194.77L345.97,193.02L346.14,191.00L346.25,189.59L346.31,188.69L346.48,186.05L346.64,183.01L346.81,179.53L346.98,175.54L347.15,170.95L347.25,167.91L347.32,165.70L347.49,159.68L347.65,152.78L347.82,144.91L347.99,135.92L348.16,125.67L348.25,119.31L348.33,113.97L348.49,100.62L348.66,85.44L348.83,68.21L349.00,48.67L349.17,28.00L349.26,28.00L349.33,28.00L349.50,28.00L349.67,28.00L349.84,28.00L350.01,28.00L350.18,28.00L350.26,28.00L350.34,28.00L350.51,28.00L350.68,28.00L350.85,28.00L351.02,28.00L351.18,28.00L351.26,28.00L351.35,28.00L351.52,28.00L351.69,28.00L351.86,28.00L352.02,28.00L352.19,28.00L352.26,28.00L352.36,28.00L352.53,28.00L352.70,28.00L352.87,28.00L353.03,28.00L353.20,28.00L353.27,28.00L353.37,28.00L353.54,28.00L353.71,28.00L353.87,28.00L354.04,28.00L354.21,28.00L354.27,28.00L354.38,28.00L354.55,28.00L354.71,28.00L354.88,44.59L355.05,60.28L355.22,74.40L355.27,78.72L355.39,87.16L355.56,98.68L355.72,109.09L355.89,118.49L356.06,126.98L356.23,134.63L356.28,136.75L356.40,141.53L356.56,147.76L356.73,153.39L356.90,158.47L357.07,163.05L357.24,167.18L357.28,168.18L357.40,170.90L357.57,174.25L357.74,177.28L357.91,180.00L358.08,182.49L358.25,184.73L358.28,185.22L358.41,186.76L358.58,188.59L358.75,190.25L358.92,191.74L359.09,193.08L359.25,194.30L359.29,194.52L359.42,195.39L359.59,196.38L359.76,197.27L359.93,198.08L360.09,198.79L360.26,199.43L360.29,199.53L360.43,200.01L360.60,200.53L360.77,201.00L360.94,201.42L361.10,201.80L361.27,202.14L361.29,202.18L361.44,202.45L361.61,202.73L361.78,202.98L361.94,203.18L362.11,203.36L362.28,203.51L362.30,203.53L362.45,203.65L362.62,203.77L362.78,203.88L362.95,203.97L363.12,204.06L363.29,204.14L363.30,204.15L363.46,204.22L363.63,204.29L363.79,204.35L363.96,204.39L364.13,204.43L364.30,204.46L364.30,204.46L364.47,204.49L364.63,204.51L364.80,204.52L364.97,204.54L365.14,204.55L365.31,204.56L365.31,204.56L365.47,204.56L365.64,204.56L365.81,204.61L365.98,204.68L366.15,204.75L366.31,204.81L366.32,204.82L366.48,204.88L366.65,204.94L366.82,205.01L366.99,205.07L367.31,205.18L368.32,205.37L369.32,205.47L370.32,205.58L371.32,205.70L372.33,205.78L373.33,205.85L374.33,205.75L375.34,205.64L376.34,205.66L377.34,205.69L378.35,205.82L379.35,205.94L380.35,205.97L381.36,205.98L382.36,206.01L383.36,206.04L384.37,206.05L385.37,206.11L386.37,206.27L387.37,206.33L388.38,206.25L389.38,206.18L390.38,206.14L391.39,206.17L392.39,206.27L393.39,206.29L394.40,206.27L395.40,206.30L396.40,206.34L397.41,206.33"/>
<text x="167" y="125" letter-spacing="0.3" style="font-size:11px;font-weight:normal;fill:#111;stroke:#111;stroke-width:0.45">多聚体</text>
<text x="202.5" y="164" letter-spacing="0.3" style="font-size:11px;font-weight:normal;fill:#111;stroke:#111;stroke-width:0.45">二聚体</text>
<text x="254.5" y="42" letter-spacing="0.3" style="font-size:11px;font-weight:normal;fill:#111;stroke:#111;stroke-width:0.45">单体</text>
</svg>
</body></html>
